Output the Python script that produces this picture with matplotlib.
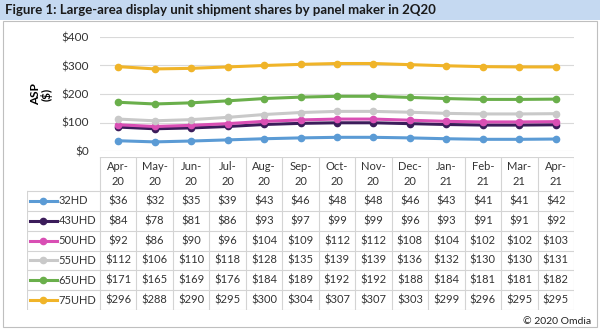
import matplotlib
matplotlib.use("Agg")
import matplotlib.pyplot as plt
from matplotlib.patches import Rectangle

plt.rcParams["font.family"] = ["Lato", "DejaVu Sans"]

months = ["Apr-\n20", "May-\n20", "Jun-\n20", "Jul-\n20", "Aug-\n20", "Sep-\n20", "Oct-\n20",
          "Nov-\n20", "Dec-\n20", "Jan-\n21", "Feb-\n21", "Mar-\n21", "Apr-\n21"]
series_names = ["32HD", "43UHD", "50UHD", "55UHD", "65UHD", "75UHD"]
hd32 = [36, 32, 35, 39, 43, 46, 48, 48, 46, 43, 41, 41, 42]
uhd43 = [84, 78, 81, 86, 93, 97, 99, 99, 96, 93, 91, 91, 92]
uhd50 = [92, 86, 90, 96, 104, 109, 112, 112, 108, 104, 102, 102, 103]
uhd55 = [112, 106, 110, 118, 128, 135, 139, 139, 136, 132, 130, 130, 131]
uhd65 = [171, 165, 169, 176, 184, 189, 192, 192, 188, 184, 181, 181, 182]
uhd75 = [296, 288, 290, 295, 300, 304, 307, 307, 303, 299, 296, 295, 295]
series_vals = [hd32, uhd43, uhd50, uhd55, uhd65, uhd75]
colors = ["#5b9bd5", "#3b1c5a", "#d94fb4", "#c9c9c9", "#6aaf4b", "#f0b429"]
yticks = [0, 100, 200, 300, 400]

W, H = 600, 331
fig = plt.figure(figsize=(W / 100, H / 100), dpi=100)


def px_axes(x0, y0, x1, y1, **kw):
    # pixel box (top-left origin) -> figure axes
    return fig.add_axes([x0 / W, 1 - y1 / H, (x1 - x0) / W, (y1 - y0) / H], **kw)


# background / title bar / frame
bg = px_axes(0, 0, W, H)
bg.set_xlim(0, W)
bg.set_ylim(H, 0)
bg.axis("off")
bg.add_patch(Rectangle((0, 0), W, 20, facecolor="#c5d9f1", edgecolor="none"))
bg.add_patch(Rectangle((3, 21), 594, 306, facecolor="white", edgecolor="#bfbfbf", lw=0.8))
bg.text(5, 10, "Figure 1: Large-area display unit shipment shares by panel maker in 2Q20",
        fontsize=9.5, fontweight="bold", va="center", ha="left", color="#1a1a1a")
bg.text(591, 321, "\u00a9 2020 Omdia", fontsize=7.5, ha="right", va="center", color="#222222")

# line chart
ax = px_axes(100, 37, 574, 151)
x = list(range(len(months)))
for vals, c in zip(series_vals, colors):
    ax.plot(x, vals, color=c, lw=2.2, marker="o", ms=4.5, zorder=3)
ax.set_xlim(-0.5, len(months) - 0.5)
ax.set_ylim(0, 400)
ax.set_yticks(yticks)
ax.set_yticklabels([f"${v}" for v in yticks], fontsize=8.5, color="#333333")
ax.set_xticks([])
ax.grid(axis="y", color="#d9d9d9", lw=0.8)
ax.tick_params(axis="y", length=0, pad=8)
for s in ax.spines.values():
    s.set_visible(False)
ax.set_axisbelow(True)
ax.set_ylabel("ASP\n($)", fontsize=8.5, fontweight="bold", labelpad=6, linespacing=1.0)

# data table
tb = px_axes(27, 157, 574, 310)
tb.set_xlim(-2.5, len(months) - 0.5)
tb.set_ylim(len(series_names), -1.72)
tb.axis("off")
gc = "#d4d4d4"
n = len(months)
# horizontal lines
tb.plot([-0.5, n - 0.5], [-1.72, -1.72], color=gc, lw=0.8)
for r in range(len(series_names) + 1):
    tb.plot([-2.5, n - 0.5], [r, r], color=gc, lw=0.8)
# vertical lines
tb.plot([-2.5, -2.5], [0, len(series_names)], color=gc, lw=0.8)
for i in range(n + 1):
    tb.plot([i - 0.5, i - 0.5], [-1.72, len(series_names)], color=gc, lw=0.8)
for i, m in enumerate(months):
    tb.text(i, -0.86, m, ha="center", va="center", fontsize=8, color="#333333", linespacing=1.35)
for r, (name, vals, c) in enumerate(zip(series_names, series_vals, colors)):
    yc = r + 0.5
    tb.plot([-2.42, -1.68], [yc, yc], color=c, lw=2.2)
    tb.plot([-2.05], [yc], color=c, marker="o", ms=4.5)
    tb.text(-1.64, yc, name, ha="left", va="center", fontsize=8, color="#333333")
    for i, v in enumerate(vals):
        tb.text(i, yc, f"${v}", ha="center", va="center", fontsize=8, color="#333333")

fig.savefig("out.png", dpi=100)
